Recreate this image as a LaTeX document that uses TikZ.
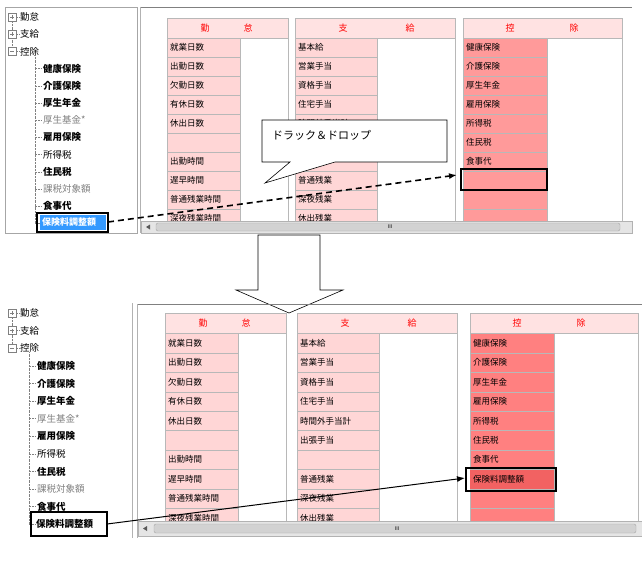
\documentclass[tikz,border=0pt]{standalone}
\usepackage{fontspec}
\setmainfont{Noto Sans CJK JP}
\usetikzlibrary{arrows.meta}
\definecolor{hdr}{HTML}{FFE2E2}
\definecolor{lp}{HTML}{FFD6D6}
\definecolor{dp}{HTML}{FF9A9A}
\definecolor{dp2}{HTML}{FF8080}
\definecolor{hot}{HTML}{F26262}
\definecolor{selb}{HTML}{3399FF}
\definecolor{bord}{HTML}{B8B8B8}
\tikzset{x=1pt,y=-1pt,
 cell/.style={draw=bord,line width=0.6pt},
 ctext/.style={anchor=west,inner sep=0pt,font=\fontsize{8.5}{9}\selectfont},
 htext/.style={inner sep=0pt,text=red,font=\fontsize{9}{10}\selectfont},
 ttext/.style={anchor=west,inner sep=0pt,font=\fontsize{9.5}{10}\selectfont},
 tbold/.style={ttext,font=\fontsize{9.5}{10}\selectfont\bfseries},
 tgray/.style={ttext,text=gray},
 box/.style={draw=black,line width=1.8pt},
}
\newcommand{\mytables}[8]{%
\def\T{#1}\def\H{#2}
\fill[hdr,draw=bord] (#3,\T) rectangle (#3+121,\T+20);
\fill[hdr,draw=bord] (#4,\T) rectangle (#4+160,\T+20);
\fill[hdr,draw=bord] (#5,\T) rectangle (#6,\T+20);
\draw[bord] (#3,\T) rectangle (#3+121,\T+250);
\draw[bord] (#4,\T) rectangle (#4+160,\T+250);
\draw[bord] (#5,\T) rectangle (#6,\T+250);
\node[htext] (#8h1a) at (#3+38,\T+10) {勤};
\node[htext] (#8h1b) at (#3+81,\T+10) {怠};
\node[htext] (#8h2a) at (#4+48,\T+10) {支};
\node[htext] (#8h2b) at (#4+115,\T+10) {給};
\node[htext] (#8h3a) at (#5+47,\T+10) {控};
\node[htext] (#8h3b) at (#5+111,\T+10) {除};
\foreach \t [count=\i from 0] in {就業日数,出勤日数,欠勤日数,有休日数,休出日数,{},出勤時間,遅早時間,普通残業時間,深夜残業時間}{
 \fill[lp,draw=bord] (#3,\T+20+\i*\H) rectangle (#3+73,\T+20+\i*\H+\H);
 \node[ctext] (#8a\i) at (#3+3,\T+20+\i*\H+\H/2) {\t};}
\foreach \t [count=\i from 0] in {基本給,営業手当,資格手当,住宅手当,時間外手当計,出張手当,{},普通残業,深夜残業,休出残業}{
 \fill[lp,draw=bord] (#4,\T+20+\i*\H) rectangle (#4+82,\T+20+\i*\H+\H);
 \node[ctext] (#8b\i) at (#4+3,\T+20+\i*\H+\H/2) {\t};}
\foreach \t [count=\i from 0] in {健康保険,介護保険,厚生年金,雇用保険,所得税,住民税,食事代,{},{},{}}{
 \fill[#7,draw=bord] (#5,\T+20+\i*\H) rectangle (#5+84,\T+20+\i*\H+\H);
 \node[ctext] (#8c\i) at (#5+3,\T+20+\i*\H+\H/2) {\t};}
}
\newcommand{\mytree}[5]{%
\foreach \t [count=\i from 0] in {勤怠,支給,控除}{
 \draw[gray] (8,#1+\i*#2-4) rectangle (16,#1+\i*#2+4);
 \draw[gray] (10,#1+\i*#2) -- (14,#1+\i*#2);
 \node[ttext] (#4r\i) at (20,#1+\i*#2) {\t};}
\draw[gray] (12,#1-2) -- (12,#1+2) (12,#1+#2-2) -- (12,#1+#2+2);
\draw[gray,densely dotted] (16,#1) -- (20,#1) (16,#1+#2) -- (20,#1+#2) (16,#1+2*#2) -- (20,#1+2*#2);
\draw[gray,densely dotted] (12,#1+4) -- (12,#1+#2-4) (12,#1+#2+4) -- (12,#1+2*#2-4);
\draw[gray,densely dotted] (#3-8,#1+2*#2+4) -- (#3-8,#1+12*#2);
\foreach \t/\s [count=\i from 0] in {健康保険/tbold,介護保険/tbold,厚生年金/tbold,厚生基金*/tgray,雇用保険/tbold,所得税/ttext,住民税/tbold,課税対象額/tgray,食事代/tbold}{
 \draw[gray,densely dotted] (#3-8,#1+3*#2+\i*#2) -- (#3-2,#1+3*#2+\i*#2);
 \node[\s] (#4k\i) at (#3,#1+3*#2+\i*#2) {\t};}
\draw[gray,densely dotted] (#3-8,#1+12*#2) -- (#3-2,#1+12*#2);
}
\begin{document}
\begin{tikzpicture}
\useasboundingbox[fill=white] (0,0) rectangle (642,586);
% ===== TOP =====
\draw[gray!70] (5,7) rectangle (137,233);
\draw[gray,line width=0.8pt] (140,7) -- (632,7);
\draw[gray!60] (140,7) -- (140,233);
\begin{scope}
\clip (141,8) rectangle (632,221);
\mytables{18}{19}{167}{295}{463}{622}{dp}{t}
\end{scope}
\fill[gray!20,draw=gray!60] (141,221) rectangle (632,233);
\fill[gray!35,draw=gray!70,rounded corners=2pt] (156,223) rectangle (620,231);
\node[font=\tiny,inner sep=0pt] (tsb) at (390,227) {III};
\fill[gray!70!black] (146,227) -- (150,224.5) -- (150,229.5) -- cycle;
\mytree{17}{17.2}{43}{tt}{}
\fill[selb] (40,215) rectangle (106,230);
\node[ttext,text=white,font=\fontsize{9}{9}\selectfont\bfseries] (tsel) at (42,222.5) {保険料調整額};
\draw[box] (37,213) rectangle (108,232);
\coordinate (tselr) at (108,222);
\draw[box] (461,169) rectangle (547,190);
\coordinate (ttgt) at (457,175);
\draw[dash pattern=on 6pt off 4pt,line width=1.6pt,-{Latex[length=8pt,width=6pt]}] (tselr) -- (ttgt);
% callout
\draw[fill=white,line width=0.6pt] (262,120) -- (447,120) -- (447,162) -- (335,162) -- (265,183) -- (290,162) -- (262,162) -- cycle;
\node[font=\fontsize{11}{12}\selectfont,anchor=west,inner sep=0pt] (call) at (272,135) {ドラック＆ドロップ};
% ===== BIG ARROW =====
\draw[line width=0.6pt,fill=white] (258,235) -- (320,235) -- (320,290) -- (343,290) -- (289,313) -- (236,290) -- (258,290) -- cycle;
% ===== BOTTOM =====
\draw[gray!60] (132,303) -- (132,538);
\draw[gray,line width=0.8pt] (137,304) -- (642,304);
\draw[gray!60] (137,304) -- (137,538);
\begin{scope}
\clip (138,305) rectangle (642,521);
\mytables{313.5}{19.4}{165}{297}{470}{638}{dp2}{b}
\fill[hot] (470,469.5) rectangle (554,488.9);
\end{scope}
\fill[gray!20,draw=gray!60] (138,521) rectangle (642,536);
\fill[gray!35,draw=gray!70,rounded corners=2pt] (154,524) rectangle (636,533);
\node[font=\tiny,inner sep=0pt] (bsb) at (397,528.5) {III};
\fill[gray!70!black] (143,528.5) -- (147,526) -- (147,531) -- cycle;
\mytree{313}{17.6}{37}{bt}{}
\node[tbold] (bsel) at (36,523.5) {保険料調整額};
\draw[box] (31,512) rectangle (107,536);
\draw[box] (466,468) rectangle (556,491);
\node[ctext] (bnew) at (473,479) {保険料調整額};
\coordinate (bselr) at (107,524);
\coordinate (btgt) at (465,478);
\draw[line width=1pt,-{Latex[length=8pt,width=6pt]}] (bselr) -- (btgt);
\end{tikzpicture}
\end{document}
